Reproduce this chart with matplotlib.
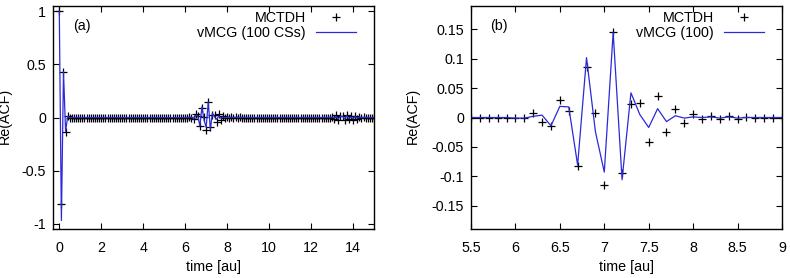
import matplotlib
matplotlib.use('Agg')
import matplotlib.pyplot as plt
from matplotlib.ticker import FuncFormatter
import numpy as np

plt.rcParams['font.family'] = ['Liberation Sans', 'DejaVu Sans']
plt.rcParams['axes.unicode_minus'] = False

# time grid of the autocorrelation function (au), step 0.1
time = np.round(np.arange(0, 151) * 0.1, 1)

# Re(ACF), split into segments
mctdh_start = [1.0, -0.81, 0.43, -0.14, 0.01]
vmcg_start = [1.0, -0.97, 0.43, -0.13, 0.01]
quiet_1 = [0.0] * 50          # t = 0.5 .. 5.4
mctdh_rev = [0.0, 0.0, 0.0, 0.0, 0.0, -0.001, -0.001, 0.008, -0.007, -0.015,
             0.029, 0.011, -0.082, 0.086, 0.007, -0.115, 0.145, -0.094, 0.023, 0.025,
             -0.041, 0.036, -0.025, 0.015, -0.009, 0.006, -0.003, 0.002, -0.002, 0.002,
             -0.002, 0.001, 0.0, 0.0, 0.0, 0.0]
vmcg_rev = [0.0, 0.0, 0.0, 0.0, 0.0, -0.001, -0.001, 0.002, 0.004, -0.014,
            0.019, 0.018, -0.081, 0.102, -0.024, -0.093, 0.145, -0.106, 0.042, 0.005,
            -0.017, 0.015, -0.007, 0.003, -0.001, 0.001, 0.0, 0.001, -0.001, 0.001,
            -0.001, 0.0, 0.0, 0.0, 0.0, 0.0]
quiet_2 = [0.0] * 39          # t = 9.1 .. 12.9
mctdh_late = [0.005, -0.01, 0.02, -0.02, 0.012, 0.015, -0.02, 0.025, -0.015, 0.01,
              -0.02, 0.012, -0.01, 0.005, -0.005, 0.003]
vmcg_late = [0.002, -0.005, 0.01, -0.012, 0.008, 0.012, -0.015, 0.018, -0.01, 0.006,
             -0.012, 0.008, -0.006, 0.003, -0.002, 0.001]
quiet_3 = [0.0] * 5           # t = 14.6 .. 15.0

mctdh = np.array(mctdh_start + quiet_1 + mctdh_rev + quiet_2 + mctdh_late + quiet_3)
vmcg = np.array(vmcg_start + quiet_1 + vmcg_rev + quiet_2 + vmcg_late + quiet_3)

W, H = 790, 278
fig = plt.figure(figsize=(W/100., H/100.), dpi=100)
fs = 10.3
blue = '#2a2ad8'

def gfmt(v, pos):
    return '%g' % round(v, 4)

panels = [
    dict(box=(53, 374), xlim=(-0.3, 15), ylim=(-1.05, 1.05), xt=np.arange(0, 15, 2),
         yt=[-1, -0.5, 0, 0.5, 1], tag='(a)', vlabel='vMCG (100 CSs)', ylab_x=5),
    dict(box=(471, 782), xlim=(5.5, 9), ylim=(-0.19, 0.19), xt=np.arange(5.5, 9.01, 0.5),
         yt=[-0.15, -0.1, -0.05, 0, 0.05, 0.1, 0.15], tag='(b)', vlabel='vMCG (100)', ylab_x=413),
]
top, bot = 6, 229

for p in panels:
    x0, x1 = p['box']
    ax = fig.add_axes([x0/W, 1-bot/H, (x1-x0)/W, (bot-top)/H])
    ax.plot(time, mctdh, linestyle='none', marker='+', color='k', markersize=5.5,
            markeredgewidth=0.9, label='MCTDH')
    ax.plot(time, vmcg, color=blue, linewidth=0.9, label=p['vlabel'])
    ax.set_xlim(p['xlim'])
    ax.set_ylim(p['ylim'])
    ax.set_xticks(p['xt'])
    ax.set_yticks(p['yt'])
    ax.xaxis.set_major_formatter(FuncFormatter(gfmt))
    ax.yaxis.set_major_formatter(FuncFormatter(gfmt))
    ax.tick_params('both', direction='in', top=True, right=True, length=4, width=0.8,
                   labelsize=fs)
    ax.tick_params('x', pad=9)
    ax.tick_params('y', pad=5)
    for s in ['top', 'bottom', 'left', 'right']:
        ax.spines[s].set_linewidth(1.0)
    ax.text(0.062, 0.91, p['tag'], transform=ax.transAxes, fontsize=fs, va='center', ha='left')
    ax.legend(loc='upper right', bbox_to_anchor=(1 - 18/(x1-x0), 1 - 5/(bot-top)),
              frameon=False, markerfirst=False, fontsize=fs, handlelength=2.8,
              handletextpad=0.7, labelspacing=0.05, borderpad=0, borderaxespad=0)
    fig.text((x0+x1)/2./W, 1-267/H, 'time [au]', fontsize=fs, ha='center', va='center')
    fig.text(p['ylab_x']/W, 1-116/H, 'Re(ACF)', fontsize=fs, ha='center', va='center',
             rotation=90)

fig.savefig('out.png', dpi=100)
